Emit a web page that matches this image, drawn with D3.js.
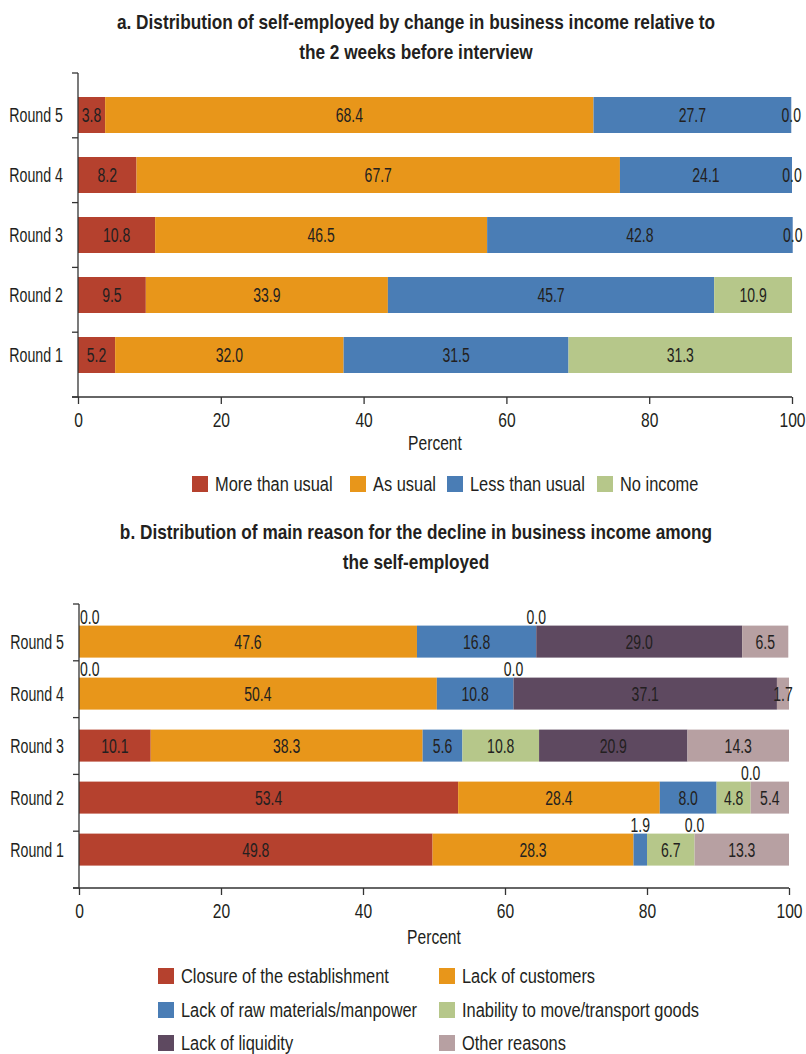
<!DOCTYPE html>
<html><head><meta charset="utf-8">
<script src="https://cdn.jsdelivr.net/npm/d3@7/dist/d3.min.js"></script>
<style>
body{margin:0;background:#fff}
svg text{font-family:'Liberation Sans',Arial,sans-serif;fill:#231f20}
</style></head><body><svg id="c" width="806" height="1054"></svg>
<script>
// ---------- data ----------
const rounds = ["Round 1", "Round 2", "Round 3", "Round 4", "Round 5"];
const xTicks = [0, 20, 40, 60, 80, 100];
const axisTitle = "Percent";

// panel a
const titleA = ["a. Distribution of self-employed by change in business income relative to", "the 2 weeks before interview"];
const seriesA = ["More than usual", "As usual", "Less than usual", "No income"];
const moreThanUsual = [5.2, 9.5, 10.8, 8.2, 3.8];
const asUsual = [32.0, 33.9, 46.5, 67.7, 68.4];
const lessThanUsual = [31.5, 45.7, 42.8, 24.1, 27.7];
const noIncome = [31.3, 10.9, 0.0, 0.0, 0.0];

// panel b
const titleB = ["b. Distribution of main reason for the decline in business income among", "the self-employed"];
const seriesB = ["Closure of the establishment", "Lack of customers", "Lack of raw materials/manpower", "Inability to move/transport goods", "Lack of liquidity", "Other reasons"];
const closure = [49.8, 53.4, 10.1, 0.0, 0.0];
const lackCustomers = [28.3, 28.4, 38.3, 50.4, 47.6];
const lackRawMaterials = [1.9, 8.0, 5.6, 10.8, 16.8];
const inabilityToMove = [6.7, 4.8, 10.8, 0.0, 0.0];
const lackLiquidity = [0.0, 0.0, 20.9, 37.1, 29.0];
const otherReasons = [13.3, 5.4, 14.3, 1.7, 6.5];

// ---------- styles ----------
const C = {red:"#b5412e", orange:"#e8961a", blue:"#4a7db5", green:"#b6c78a", purple:"#5e4960", pink:"#b7a0a2"};
const DARK = "#231f20";
const FS = 20;

const svg = d3.select("#c");

// emulate a condensed typeface by compressing glyphs horizontally
function condense(sel, k) {
  sel.each(function () {
    const w = this.getComputedTextLength();
    this.setAttribute("textLength", (w * k).toFixed(2));
    this.setAttribute("lengthAdjust", "spacingAndGlyphs");
  });
}

function panel(cfg) {
  const g = svg.append("g");
  const x = d3.scaleLinear().domain([0, 100]).range([cfg.x0, cfg.x1]);
  const y = d3.scaleBand().domain(rounds.slice().reverse()).range(cfg.barRange)
    .paddingInner(cfg.padIn).paddingOuter(cfg.padOut);
  const tickY = d3.scaleLinear().domain([0, rounds.length]).range([cfg.axTop, cfg.axBottom]);

  // title
  g.selectAll(".title").data(cfg.title).join("text").attr("class", "title")
    .attr("x", cfg.titleX).attr("y", (d, i) => cfg.titleY + i * 30)
    .attr("text-anchor", "middle").attr("font-weight", "bold").attr("font-size", 21)
    .text(d => d)
    .call(condense, 0.82);

  // stacked data
  const rows = rounds.map((r, i) => {
    const o = {round: r};
    cfg.keys.forEach((k, j) => o[k] = cfg.values[j][i]);
    return o;
  });
  const stack = d3.stack().keys(cfg.keys)(rows);

  const layers = g.selectAll(".layer").data(stack).join("g")
    .attr("fill", (d, i) => cfg.colors[i]);
  layers.selectAll("rect").data(d => d).join("rect")
    .attr("x", d => x(d[0])).attr("width", d => x(d[1]) - x(d[0]))
    .attr("y", d => y(d.data.round)).attr("height", y.bandwidth());

  // labels
  stack.forEach((layer, li) => {
    const isLast = li === stack.length - 1;
    layer.forEach(d => {
      const val = d.data[layer.key];
      const above = cfg.aboveSmall && (val < 1.8 ? !isLast : val < 2);
      const cx = x((d[0] + d[1]) / 2);
      const t = g.append("text").attr("font-size", FS).text(val.toFixed(1));
      if (above) {
        const atZero = d[0] === 0;
        t.attr("x", atZero ? x(0) + 1 : cx).attr("text-anchor", atZero ? "start" : "middle")
          .attr("y", y(d.data.round) - 2)
          .attr("fill", DARK);
      } else {
        t.attr("x", cx).attr("text-anchor", "middle")
          .attr("y", y(d.data.round) + y.bandwidth() / 2).attr("dy", "0.36em")
          .attr("fill", val === 0 ? DARK : cfg.textColors[li]);
      }
      condense(t, 0.7);
    });
  });

  // y axis
  g.append("line").attr("x1", cfg.x0).attr("x2", cfg.x0).attr("y1", cfg.axTop).attr("y2", cfg.axBottom)
    .attr("stroke", "#333").attr("stroke-width", 1.3);
  g.selectAll(".ytick").data(d3.range(rounds.length + 1)).join("line")
    .attr("x1", cfg.x0 - 6).attr("x2", cfg.x0).attr("y1", d => tickY(d)).attr("y2", d => tickY(d))
    .attr("stroke", "#333").attr("stroke-width", 1.3);
  g.selectAll(".ylab").data(rounds).join("text")
    .attr("x", cfg.x0 - 15).attr("y", d => y(d) + y.bandwidth() / 2).attr("dy", "0.36em")
    .attr("text-anchor", "end").attr("font-size", FS).text(d => d)
    .call(condense, 0.71);

  // x axis
  const ax = g.append("g").attr("transform", `translate(0,${cfg.axBottom})`)
    .call(d3.axisBottom(x).tickValues(xTicks).tickSize(7).tickPadding(9).tickFormat(d3.format("d")));
  ax.attr("font-family", null).attr("font-size", null);
  ax.select(".domain").remove();
  ax.selectAll(".tick line").attr("stroke", "#333").attr("stroke-width", 1.3);
  ax.selectAll(".tick text").attr("font-size", 20).attr("fill", DARK).call(condense, 0.78);
  g.append("line").attr("x1", cfg.x0 - 6).attr("x2", cfg.x1).attr("y1", cfg.axBottom).attr("y2", cfg.axBottom)
    .attr("stroke", "#333").attr("stroke-width", 1.3);
  g.append("text").attr("x", (cfg.x0 + cfg.x1) / 2).attr("y", cfg.axBottom + cfg.pctDy)
    .attr("text-anchor", "middle").attr("font-size", 20).text(axisTitle)
    .call(condense, 0.78);

  // legend
  cfg.keys.forEach((k, i) => {
    const p = cfg.legendPos[i];
    g.append("rect").attr("x", p[0]).attr("y", p[1] - 8).attr("width", 16).attr("height", 16).attr("fill", cfg.colors[i]);
    g.append("text").attr("x", p[0] + 23).attr("y", p[1]).attr("dy", "0.36em").attr("font-size", FS).text(k)
      .call(condense, 0.82);
  });
}

panel({
  title: titleA, titleX: 416, titleY: 29,
  keys: seriesA, values: [moreThanUsual, asUsual, lessThanUsual, noIncome],
  colors: [C.red, C.orange, C.blue, C.green],
  textColors: ["#fff", DARK, "#fff", DARK],
  x0: 78, x1: 792, axTop: 73, axBottom: 397,
  barRange: [85, 385], padIn: 0.4, padOut: 0.2,
  aboveSmall: false, pctDy: 53,
  legendPos: [[192, 484], [350, 484], [447, 484], [597, 484]]
});

panel({
  title: titleB, titleX: 416, titleY: 539,
  keys: seriesB, values: [closure, lackCustomers, lackRawMaterials, inabilityToMove, lackLiquidity, otherReasons],
  colors: [C.red, C.orange, C.blue, C.green, C.purple, C.pink],
  textColors: ["#fff", DARK, "#fff", DARK, "#fff", DARK],
  x0: 79, x1: 789, axTop: 604, axBottom: 888,
  barRange: [615.6, 875.6], padIn: 20 / 52, padOut: 10 / 52,
  aboveSmall: true, pctDy: 56,
  legendPos: [[158, 976], [439, 976], [158, 1010], [439, 1010], [158, 1043], [439, 1043]]
});
</script></body></html>
